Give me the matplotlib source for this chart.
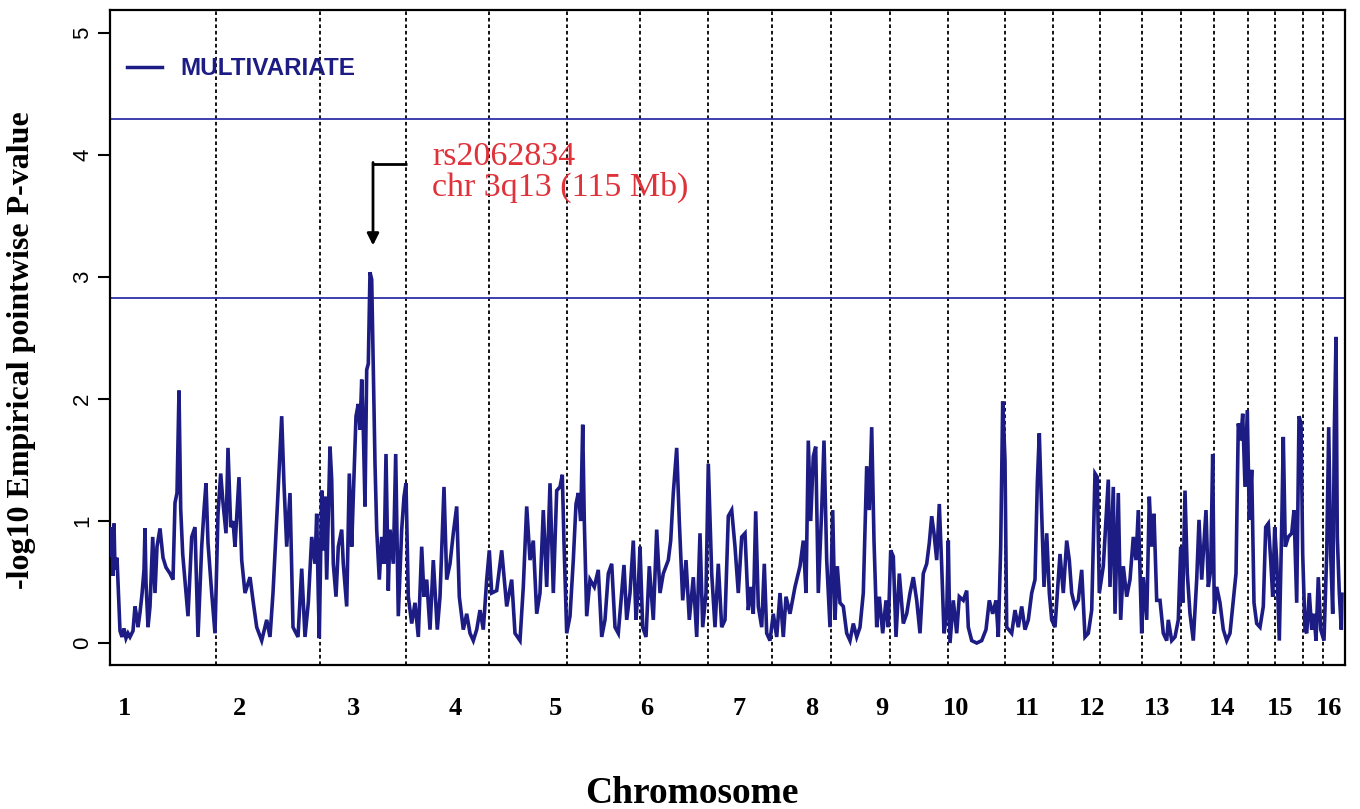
import matplotlib
matplotlib.use("Agg")
from matplotlib import pyplot as plt
from matplotlib.lines import Line2D

# genome scan, map position (cumulative) and -log10 empirical pointwise p-value
pos = [
    # chr1
    0, 2, 3, 4, 5, 7, 9, 10, 12, 14, 16, 18, 20, 23, 25, 27, 28, 30, 32, 34, 35, 36, 38, 40,
    42.7, 45, 47, 50, 53, 56, 60, 63, 65, 67, 69, 70.7, 72.7, 76, 78, 81.7, 85, 88, 91.7, 94,
    96, 98, 101.7, 105,
    # chr2
    108, 110.7, 113, 116, 118, 120.7, 123, 125, 129, 131.7, 135, 140, 143, 146.7, 151.7, 156.7,
    160, 163, 168, 171.7, 174, 176.7, 180, 183, 188, 191.7, 195, 198.3, 201.7, 205, 206.7,
    208.3, 209.3,
    # chr3
    211.7, 213.3, 215, 216.7, 220, 221.7, 223.3, 226, 228.3, 231.7, 233.3, 236.7, 239.3, 241.7,
    243.3, 246, 248.3, 250, 251.7, 253.3, 255, 256.7, 258.3, 260, 261.7, 263.3, 265, 266.7,
    269.3, 271.7, 274, 276, 278.3, 280, 283.3, 285.7, 288.3, 291.7, 294, 296,
    # chr4
    298.3, 301.7, 305, 308.3, 311.7, 314, 316.7, 320, 323.3, 327.3, 330, 334, 336.7, 340, 343.3,
    346.7, 349.3, 353.3, 356.7, 360, 363.3, 366.7, 370, 373.3, 376.7, 379.3,
    # chr5
    381.7, 386.7, 391.7, 396.7, 401.7, 405, 410, 413.3, 416.7, 420, 423.3, 426.7, 430, 433.3,
    436.7, 440, 443.3, 446.7, 450, 452.3, 454, 456.7,
    # chr6
    460, 463.3, 466, 468.3, 470.7, 472.7, 474.3, 476.7, 480, 484.3, 488.3, 491.7, 495, 498.3,
    501.7, 505, 508.3, 514, 516.7, 520, 523.3, 526, 528.3, 530,
    # chr7
    532.7, 536, 539.3, 543.3, 546.7, 550, 553.3, 558.3, 560.7, 563.3, 566.7, 569.3, 572.7, 576,
    579.3, 583.3, 586.7, 590, 592.7, 596, 598.3,
    # chr8
    601.7, 605, 608.3, 611.7, 615, 618.3, 621.7, 625, 628.3, 631.7, 635, 638.3, 640.7, 643.3,
    645.7, 648.3, 651.7, 654.3, 656.7, 660,
    # chr9
    663.3, 666.7, 670, 673.3, 676, 680, 685, 690, 693.3, 696, 698.3, 700.7, 703.3, 705.7, 708.3,
    711.7, 714, 716.7, 720,
    # chr10
    722.7, 725, 727.3, 730, 733.3, 736.7, 740, 743.3, 746.7, 750, 753.3, 756.7, 759.3, 761.7,
    764, 766.7, 769.3, 772.7, 776, 778.3,
    # chr11
    780.7, 783.3, 786, 789.3, 793.3, 796.7, 800, 803.3, 806.7, 810, 813.3, 816.7, 819.3, 821.7,
    824, 826.7, 829.3, 831.7, 834, 836.7, 838.3,
    # chr12
    840, 843.3, 846.7, 849.3, 853.3, 856.7, 858.3, 861.7, 866.7, 871.7, 876, 879.3, 882.7, 886,
    888.3, 890.7, 892.7, 895,
    # chr13
    896.7, 901.7, 905, 908.3, 911.7, 915, 918.3, 921.7, 925, 927.3, 929.3, 931.7, 934, 936.7,
    939.3, 941.7,
    # chr14
    945, 950, 953.3, 956.7, 959.3, 961.7, 965, 968.3, 971.7, 975, 978.3, 981.7, 985, 987.3, 989.3,
    # chr15
    993.3, 998.3, 1000, 1003.3, 1005, 1008.3, 1010.7, 1013.3, 1016.7, 1020, 1023.3, 1026,
    1028.3, 1030, 1031.7,
    # chr16
    1033.3, 1036.7, 1039.3, 1041.7, 1044, 1046.7, 1050, 1053.3, 1056.7, 1058.3, 1061.7, 1065,
    1068.3, 1070.7,
    # chr17
    1072.7, 1075, 1077.3, 1080, 1083.3, 1086.7, 1089, 1091.7, 1094, 1096, 1098.3, 1100.7,
    1102.7, 1104.3,
    # chr18
    1106.7, 1110, 1113.3, 1116.7, 1120, 1123.3, 1126, 1128.3, 1130.7, 1132.7, 1135, 1137.3,
    # chr19
    1139.3, 1141.7, 1144, 1146.7, 1150, 1153.3, 1155.7, 1158.3, 1160.7, 1162.7, 1164.7,
    # chr20
    1166.7, 1169.3, 1171.7, 1173.3, 1175.3, 1178.3, 1181.7, 1184, 1186.7, 1189, 1191, 1192.7,
    # chr21
    1195, 1196.7, 1199.3, 1201.7, 1204, 1206, 1208.3, 1210.7,
    # chr22
    1214, 1216.7, 1218.7, 1220.7, 1222.7, 1224.3, 1226, 1227.3, 1229.3, 1231.3, 1232,
]

mlog_p = [
    # chr1
    0.72, 0.95, 0.55, 0.98, 0.6, 0.7, 0.3, 0.1, 0.05, 0.12, 0.04, 0.08, 0.05, 0.1, 0.3, 0.2,
    0.13, 0.25, 0.4, 0.6, 0.94, 0.5, 0.13, 0.3, 0.87, 0.41, 0.79, 0.94, 0.7, 0.62, 0.57, 0.52,
    1.15, 1.23, 2.07, 1.1, 0.73, 0.41, 0.22, 0.87, 0.95, 0.05, 0.79, 1.09, 1.31, 0.82, 0.41, 0.08,
    # chr2
    1.06, 1.39, 1.15, 0.9, 1.6, 0.95, 1.0, 0.79, 1.36, 0.68, 0.41, 0.54, 0.35, 0.13, 0.02, 0.19,
    0.05, 0.41, 1.23, 1.86, 1.3, 0.79, 1.23, 0.13, 0.05, 0.61, 0.05, 0.33, 0.87, 0.65, 1.06,
    0.38, 0.04,
    # chr3
    1.25, 0.76, 1.2, 0.52, 1.61, 1.34, 0.65, 0.38, 0.79, 0.93, 0.65, 0.3, 1.39, 0.79, 1.2, 1.86,
    1.96, 1.75, 2.16, 1.75, 1.12, 2.24, 2.29, 3.04, 2.98, 2.24, 1.47, 0.93, 0.52, 0.87, 0.65,
    1.55, 0.43, 0.93, 0.65, 1.55, 0.22, 0.93, 1.2, 1.31,
    # chr4
    0.38, 0.16, 0.33, 0.05, 0.79, 0.38, 0.52, 0.11, 0.68, 0.11, 0.38, 1.28, 0.52, 0.65, 0.9,
    1.12, 0.38, 0.11, 0.24, 0.08, 0.02, 0.11, 0.27, 0.11, 0.52, 0.76,
    # chr5
    0.41, 0.43, 0.76, 0.3, 0.52, 0.08, 0.02, 0.46, 1.12, 0.68, 0.84, 0.24, 0.41, 1.09, 0.46,
    1.31, 0.41, 1.25, 1.28, 1.38, 0.82, 0.08,
    # chr6
    0.22, 0.68, 1.14, 1.23, 1.0, 1.79, 1.0, 0.22, 0.52, 0.46, 0.6, 0.05, 0.19, 0.57, 0.65, 0.13,
    0.08, 0.64, 0.19, 0.41, 0.84, 0.19, 0.46, 0.79,
    # chr7
    0.13, 0.05, 0.63, 0.19, 0.93, 0.41, 0.57, 0.68, 0.84, 1.23, 1.6, 1.0, 0.35, 0.68, 0.19, 0.54,
    0.05, 0.9, 0.13, 0.41, 1.47,
    # chr8
    0.57, 0.13, 0.65, 0.13, 0.19, 1.04, 1.09, 0.79, 0.41, 0.87, 0.9, 0.27, 0.46, 0.24, 1.08, 0.3,
    0.13, 0.65, 0.08, 0.02,
    # chr9
    0.24, 0.05, 0.41, 0.05, 0.38, 0.24, 0.46, 0.63, 0.84, 0.41, 1.66, 1.0, 1.53, 1.61, 0.41,
    1.09, 1.66, 0.68, 0.13,
    # chr10
    1.09, 0.19, 0.63, 0.33, 0.3, 0.08, 0.02, 0.16, 0.05, 0.13, 0.41, 1.45, 1.09, 1.77, 0.84,
    0.13, 0.38, 0.08, 0.35, 0.13,
    # chr11
    0.76, 0.71, 0.05, 0.57, 0.16, 0.24, 0.41, 0.54, 0.35, 0.08, 0.57, 0.65, 0.82, 1.04, 0.9,
    0.68, 1.14, 0.63, 0.08, 0.24, 0.84,
    # chr12
    0.0, 0.35, 0.08, 0.38, 0.35, 0.43, 0.13, 0.02, 0.0, 0.02, 0.11, 0.35, 0.24, 0.35, 0.05,
    0.79, 1.98, 1.5,
    # chr13
    0.13, 0.08, 0.27, 0.13, 0.3, 0.11, 0.19, 0.41, 0.52, 1.31, 1.72, 1.06, 0.46, 0.9, 0.41, 0.19,
    # chr14
    0.13, 0.73, 0.41, 0.84, 0.68, 0.41, 0.3, 0.35, 0.6, 0.05, 0.08, 0.27, 1.39, 1.36, 0.41,
    # chr15
    0.63, 1.34, 0.46, 1.28, 0.24, 1.23, 0.19, 0.63, 0.38, 0.52, 0.87, 0.68, 1.09, 0.6, 0.08,
    # chr16
    0.54, 0.19, 1.2, 0.79, 1.06, 0.35, 0.35, 0.08, 0.02, 0.19, 0.02, 0.05, 0.19, 0.79,
    # chr17
    0.33, 1.25, 0.57, 0.24, 0.02, 0.52, 1.01, 0.52, 0.82, 1.09, 0.46, 0.6, 1.55, 0.24,
    # chr18
    0.46, 0.33, 0.11, 0.02, 0.08, 0.35, 0.57, 1.8, 1.66, 1.88, 1.28, 1.91,
    # chr19
    1.01, 1.42, 0.33, 0.16, 0.13, 0.3, 0.95, 0.98, 0.68, 0.38, 0.95,
    # chr20
    0.68, 0.02, 0.95, 1.69, 0.79, 0.87, 0.9, 1.09, 0.33, 1.86, 1.8, 0.73,
    # chr21
    0.11, 0.08, 0.41, 0.11, 0.24, 0.02, 0.54, 0.11,
    # chr22
    0.02, 0.73, 1.77, 0.73, 0.24, 1.72, 2.51, 0.87, 0.41, 0.11, 0.4,
]

# chromosome boundaries on the same map scale
chrom_ends = [106, 210, 296, 379, 457, 530, 598, 662, 721, 780, 838, 895, 943, 990,
              1032, 1071, 1104, 1138, 1165, 1193, 1213]
genome_end = 1235

tick_pos = [14, 129, 243, 345, 445, 537, 629, 702, 772, 846, 917, 982, 1047, 1112, 1170, 1219]
tick_labels = [str(i) for i in range(1, 17)]

thresholds = [4.30, 2.83]
peak_snp = "rs2062834"
peak_loc = "chr 3q13 (115 Mb)"

navy = "#1c1c84"
serif = ["Liberation Serif", "DejaVu Serif"]

fig = plt.figure(figsize=(13.6, 8.09), dpi=100)
ax = fig.add_axes([110 / 1360, 1 - 665 / 809, 1235 / 1360, 655 / 809])

for b in chrom_ends:
    ax.axvline(b, color="black", lw=1.3, linestyle=(0, (2.0, 1.6)), zorder=1)
for t in thresholds:
    ax.axhline(t, color="#2f2fa8", lw=1.3, zorder=2)

ax.plot(pos, mlog_p, color=navy, lw=2.6, solid_joinstyle="miter", zorder=3)

ax.set_xlim(0, genome_end)
ax.set_ylim(-0.18, 5.19)

ax.set_xticks(tick_pos)
ax.set_xticklabels(tick_labels, fontfamily=serif, fontweight="bold", fontsize=19)
ax.tick_params(axis="x", length=0, pad=23)
ax.set_yticks(range(6))
ax.set_yticklabels([str(i) for i in range(6)], rotation=90, va="center",
                   fontfamily=["Liberation Sans", "DejaVu Sans"], fontsize=16)
ax.tick_params(axis="y", length=9, width=1.5, pad=3)
for s in ax.spines.values():
    s.set_linewidth(1.6)

# annotation of the top hit
ax.text(322, 3.92, peak_snp, color="#e0323a", fontfamily=serif, fontsize=24.5, va="baseline")
ax.text(322, 3.67, peak_loc, color="#e0323a", fontfamily=serif, fontsize=24.5, va="baseline")
ax.plot([297, 263], [3.93, 3.93], color="black", lw=2, solid_capstyle="butt")
ax.annotate("", xy=(263, 3.26), xytext=(263, 3.94),
            arrowprops=dict(arrowstyle="-|>,head_length=0.7,head_width=0.35",
                            color="black", lw=2, shrinkA=0, shrinkB=0))

handle = Line2D([], [], color=navy, lw=2.5)
leg = ax.legend([handle], ["MULTIVARIATE"], loc="center left", bbox_to_anchor=(0.0138, 0.91),
                frameon=False, borderpad=0, borderaxespad=0, handlelength=1.45, handletextpad=0.75,
                prop=dict(family=["Liberation Sans Narrow", "Liberation Sans"], weight="bold", size=17.5))
for txt in leg.get_texts():
    txt.set_color(navy)

fig.text(22 / 1360, 1 - 350 / 809, "-log10 Empirical pointwise P-value", rotation=90,
         ha="center", va="center", fontfamily=serif, fontweight="bold", fontsize=23)
fig.text(692 / 1360, 1 - 803 / 809, "Chromosome", ha="center", va="baseline",
         fontfamily=serif, fontweight="bold", fontsize=27)

fig.savefig("out.png", dpi=100)
